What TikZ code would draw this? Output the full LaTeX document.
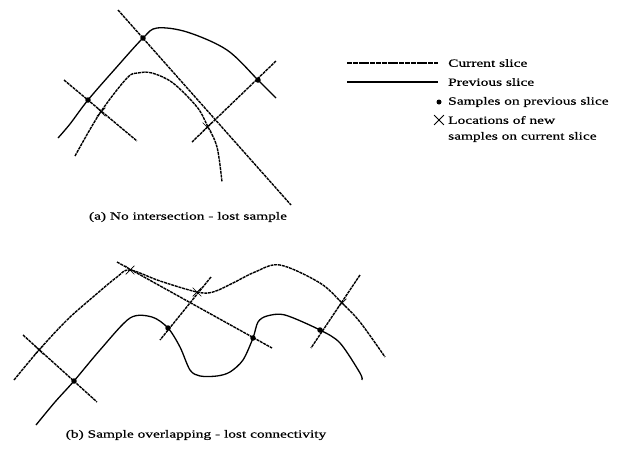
\documentclass[tikz,border=0pt]{standalone}
\usepackage{fontspec}
\setmainfont{Liberation Serif}
\newfontfamily\widefont[FakeStretch=1.4,FakeBold=0.6]{Liberation Serif}
\usepackage{tikz}
\usetikzlibrary{shapes.misc}

\begin{document}
\begin{tikzpicture}[x=1pt,y=-1pt,
		dot/.style={circle,fill,inner sep=0pt,minimum size=5.5pt},
		xmark/.style={cross out,draw,inner sep=0pt,minimum size=8pt,line width=0.7pt},
		prev/.style={line width=1.3pt,line join=round},
		cur/.style={line width=1.4pt,dash pattern=on 3pt off 0.8pt},
		lbl/.style={font=\widefont\fontsize{11}{12}\selectfont,inner sep=0pt}
	]
	\useasboundingbox (0,0) rectangle (622,448);

	% (a) previous slice with its samples
	\draw[prev] plot[smooth,tension=0.55] coordinates {(58,138) (70,124) (88,100) (115,69) (143,38) (157,28) (187,32) (227,50) (258,80) (276,98)};
	\node[dot] (a1) at (143,38) {};
	\node[dot] (a2) at (88,100) {};
	\node[dot] (a3) at (258,80) {};

	% (a) current slice
	\draw[cur] plot[smooth,tension=0.55] coordinates {(75,156) (100,113) (127,78) (138,73) (152,73) (173,83) (197,107) (207,125) (217,147) (222,182)};

	% (a) lines through the samples
	\coordinate (a1s) at (118,10);
	\coordinate (a1e) at (291,205);
	\coordinate (a2s) at (64,80);
	\coordinate (a2e) at (137,141);
	\coordinate (a3s) at (276,61);
	\coordinate (a3e) at (192,142);
	\draw[cur] (a1s) -- (a1e);
	\draw[cur] (a2s) -- (a2e);
	\draw[cur] (a3s) -- (a3e);
	\node[xmark] (x2) at (101,112) {};
	\node[xmark] (x3) at (207,127) {};

	\node[lbl] (capa) at (188,217) {(a) No intersection - lost sample};

	% legend
	\coordinate (l1s) at (347,63);
	\coordinate (l1e) at (438,63);
	\coordinate (l2s) at (347,82);
	\coordinate (l2e) at (438,82);
	\draw[cur,dash pattern=on 5pt off 0.8pt] (l1s) -- (l1e);
	\draw[prev] (l2s) -- (l2e);
	\node[lbl,anchor=west] (t1) at (448,63) {Current slice};
	\node[lbl,anchor=west] (t2) at (448,82) {Previous slice};
	\node[dot,minimum size=5pt] (ldot) at (439,102) {};
	\node[lbl,anchor=west] (t3) at (448,102) {Samples on previous slice};
	\node[xmark,minimum size=9pt,line width=0.8pt] (lx) at (439,120) {};
	\node[lbl,anchor=west] (t4) at (448,120) {Locations of new};
	\node[lbl,anchor=west] (t5) at (448,137) {samples on current slice};

	% (b) previous slice with its samples
	\draw[prev] plot[smooth,tension=0.5] coordinates {(36,425) (55,402) (74,381) (100,350) (130,318) (152,317) (168,328) (180,347) (190,370) (200,376) (217,376) (230,372) (243,360) (253,338) (258,322) (267,316) (285,315) (320,330) (340,343) (360,373) (362,380)};
	\node[dot] (b1) at (74,381) {};
	\node[dot] (b2) at (168,328) {};
	\node[dot] (b3) at (253,338) {};
	\node[dot] (b4) at (320,330) {};

	% (b) current slice
	\draw[cur] plot[smooth,tension=0.55] coordinates {(14,380) (39,350) (67,320) (93,297) (117,277) (130,270) (160,281) (197,292) (213,292) (233,283) (255,272) (280,265) (320,283) (342,303) (360,322) (385,357)};

	% (b) lines through the samples
	\coordinate (b1s) at (23,335);
	\coordinate (b1e) at (97,402);
	\coordinate (b2s) at (211,277);
	\coordinate (b2e) at (160,340);
	\coordinate (b3s) at (117,262);
	\coordinate (b3e) at (272,348);
	\coordinate (b4s) at (360,275);
	\coordinate (b4e) at (311,348);
	\draw[cur] (b1s) -- (b1e);
	\draw[cur] (b2s) -- (b2e);
	\draw[cur] (b3s) -- (b3e);
	\draw[cur] (b4s) -- (b4e);
	\node[xmark] (y1) at (39,350) {};
	\node[xmark] (y2) at (197,292) {};
	\node[xmark] (y3) at (130,270) {};
	\node[xmark] (y4) at (342,303) {};

	\node[lbl] (capb) at (196,435) {(b) Sample overlapping - lost connectivity};
\end{tikzpicture}
\end{document}
